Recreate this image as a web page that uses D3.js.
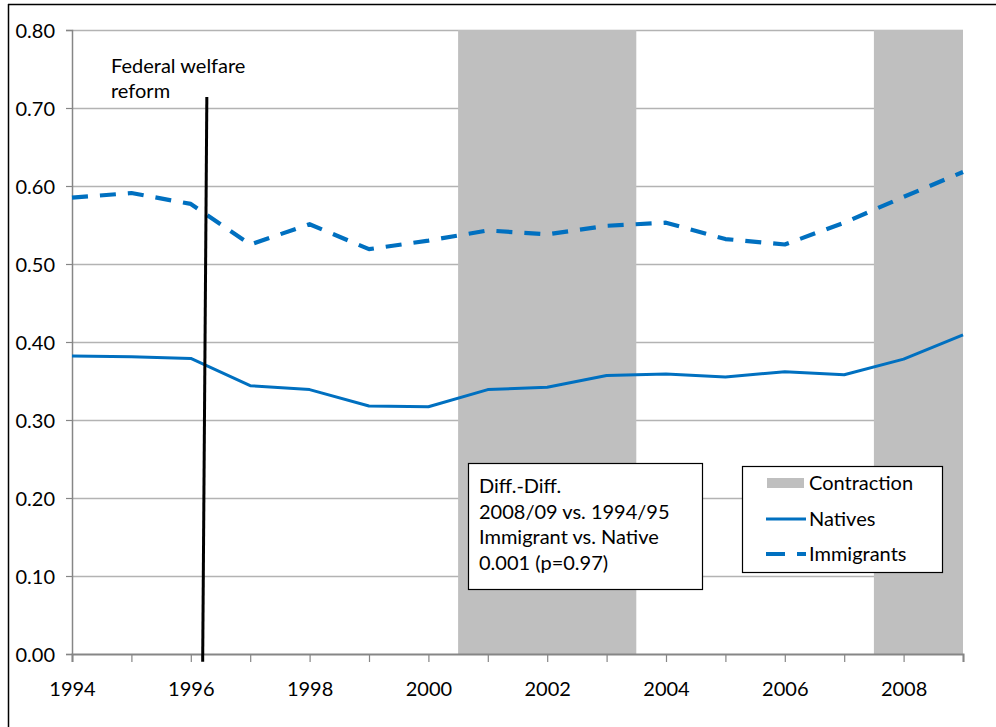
<!DOCTYPE html>
<html>
<head>
<meta charset="utf-8">
<script src="https://cdn.jsdelivr.net/npm/d3@7"></script>
<style>
  html, body { margin: 0; padding: 0; background: #fff; }
  svg { display: block; }
  text { font-family: Lato, "Open Sans", sans-serif; fill: #000; }
</style>
</head>
<body>
<svg id="chart" width="996" height="727"></svg>
<script>
// ---- data ----
const years = [1994,1995,1996,1997,1998,1999,2000,2001,2002,2003,2004,2005,2006,2007,2008,2009];
const natives = [0.382,0.381,0.379,0.344,0.339,0.318,0.317,0.339,0.342,0.357,0.359,0.355,0.362,0.358,0.378,0.409];
const immigrants = [0.585,0.591,0.577,0.525,0.551,0.519,0.530,0.543,0.538,0.549,0.553,0.532,0.525,0.553,0.586,0.618];
const contractionStarts = [2000.5, 2007.5];
const contractionEnds = [2003.5, 2009];
const yTicks = [0,0.1,0.2,0.3,0.4,0.5,0.6,0.7,0.8];
const xLabelYears = [1994,1996,1998,2000,2002,2004,2006,2008];
const reformLine = [{x:1996.27, y:0.714}, {x:1996.2, y:-0.010}];
const reformLabel = ["Federal welfare", "reform"];
const noteLines = ["Diff.-Diff.", "2008/09 vs. 1994/95", "Immigrant vs. Native", "0.001 (p=0.97)"];
const legendLabels = ["Contraction", "Natives", "Immigrants"];

// ---- layout ----
const svg = d3.select("#chart");
const x = d3.scaleLinear().domain([1994, 2009]).range([72, 963]);
const y = d3.scaleLinear().domain([0, 0.8]).range([654, 30]);
const blue = "#0070C0";
const shade = "#BFBFBF";
const fontSize = "20px";

// outer frame
svg.append("line").attr("x1", 8.5).attr("x2", 8.5).attr("y1", 4).attr("y2", 727)
  .attr("stroke", "#000").attr("stroke-width", 1.5);
svg.append("line").attr("x1", 8).attr("x2", 996).attr("y1", 4.5).attr("y2", 4.5)
  .attr("stroke", "#000").attr("stroke-width", 1.5);

// gridlines
svg.append("g").selectAll("line").data(yTicks.filter(d => d > 0)).join("line")
  .attr("x1", x(1994)).attr("x2", x(2009))
  .attr("y1", d => Math.round(y(d)) + 0.5).attr("y2", d => Math.round(y(d)) + 0.5)
  .attr("stroke", "#B3B3B3").attr("stroke-width", 1.5);

// contraction shading
svg.append("g").selectAll("rect").data(contractionStarts).join("rect")
  .attr("x", d => x(d))
  .attr("width", (d, i) => x(contractionEnds[i]) - x(d))
  .attr("y", y(0.8))
  .attr("height", y(0) - y(0.8))
  .attr("fill", shade);

// y axis
const yAxis = d3.axisLeft(y).tickValues(yTicks).tickFormat(d3.format(".2f")).tickSize(6).tickPadding(11);
const gy = svg.append("g").attr("transform", `translate(${x(1994)},0)`).call(yAxis);
gy.select(".domain").attr("stroke", "#868686").attr("stroke-width", 1.5);
gy.selectAll(".tick line").attr("stroke", "#868686").attr("stroke-width", 1.2);
gy.selectAll(".tick text").attr("font-size", fontSize).attr("font-family", "Lato").attr("fill", "#000").attr("dy", "0.36em");

// x axis
const xAxis = d3.axisBottom(x).tickValues(years).tickSize(8).tickPadding(20)
  .tickFormat(d => xLabelYears.includes(d) ? String(d) : "");
const gx = svg.append("g").attr("transform", `translate(0,${y(0)})`).call(xAxis);
gx.select(".domain").attr("stroke", "#868686").attr("stroke-width", 2);
gx.selectAll(".tick line").attr("stroke", "#868686").attr("stroke-width", 1.2);
gx.selectAll(".tick text").attr("font-size", fontSize).attr("font-family", "Lato").attr("fill", "#000");

// lines
const line = d3.line().x((d, i) => x(years[i])).y(d => y(d));
svg.append("path").datum(natives).attr("d", line)
  .attr("fill", "none").attr("stroke", blue).attr("stroke-width", 3).attr("stroke-linejoin", "round");
svg.append("path").datum(immigrants).attr("d", line)
  .attr("fill", "none").attr("stroke", blue).attr("stroke-width", 4.2)
  .attr("stroke-dasharray", "16 12").attr("stroke-linejoin", "round");

// reform line
svg.append("line")
  .attr("x1", x(reformLine[0].x)).attr("y1", y(reformLine[0].y))
  .attr("x2", x(reformLine[1].x)).attr("y2", y(reformLine[1].y))
  .attr("stroke", "#000").attr("stroke-width", 3);
svg.append("text").attr("x", 111).attr("y", 73).attr("font-size", fontSize)
  .selectAll("tspan").data(reformLabel).join("tspan")
  .attr("x", 111).attr("dy", (d, i) => i === 0 ? 0 : 25).text(d => d);

// note box
const note = svg.append("g");
note.append("rect").attr("x", 468.5).attr("y", 463.5).attr("width", 234).attr("height", 126)
  .attr("fill", "#fff").attr("stroke", "#000").attr("stroke-width", 1.2);
note.append("text").attr("font-size", fontSize)
  .selectAll("tspan").data(noteLines).join("tspan")
  .attr("x", 479).attr("y", (d, i) => 493 + i * 25.5).text(d => d);

// legend
const lg = svg.append("g");
lg.append("rect").attr("x", 742.5).attr("y", 466.5).attr("width", 200).attr("height", 106)
  .attr("fill", "#fff").attr("stroke", "#000").attr("stroke-width", 1.2);
const rowY = [483, 519, 554];
lg.append("rect").attr("x", 767).attr("y", rowY[0] - 5).attr("width", 37).attr("height", 10).attr("fill", shade);
lg.append("line").attr("x1", 766).attr("x2", 806).attr("y1", rowY[1]).attr("y2", rowY[1])
  .attr("stroke", blue).attr("stroke-width", 3);
lg.append("line").attr("x1", 766).attr("x2", 806).attr("y1", rowY[2]).attr("y2", rowY[2])
  .attr("stroke", blue).attr("stroke-width", 4.2).attr("stroke-dasharray", "19 12");
lg.selectAll("text.lab").data(legendLabels).join("text").attr("class", "lab")
  .attr("x", 809).attr("y", (d, i) => rowY[i] + 7).attr("font-size", fontSize).text(d => d);
</script>
</body>
</html>
